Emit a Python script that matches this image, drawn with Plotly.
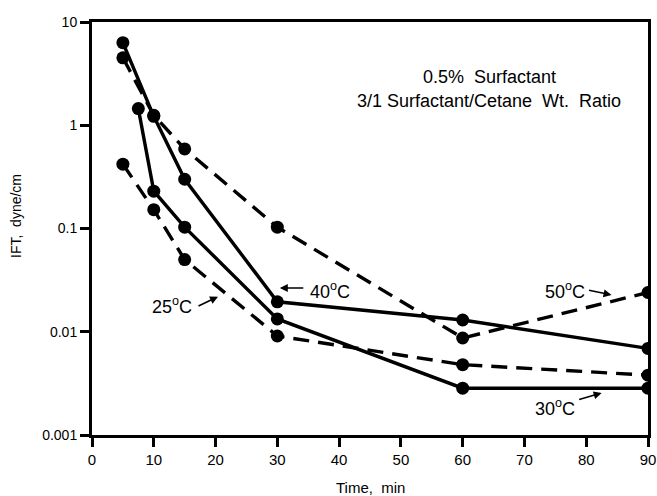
import plotly.graph_objects as go

# Interfacial tension vs. time, 0.5% surfactant, 3/1 surfactant/cetane ratio
time_25 = [5, 10, 15, 30, 60, 90]
ift_25 = [0.42, 0.152, 0.050, 0.0091, 0.0048, 0.0038]

time_30 = [7.5, 10, 15, 30, 60, 90]
ift_30 = [1.45, 0.23, 0.103, 0.0133, 0.00284, 0.00284]

time_40 = [5, 10, 15, 30, 60, 90]
ift_40 = [6.3, 1.22, 0.30, 0.0195, 0.013, 0.0069]

time_50 = [5, 10, 15, 30, 60, 90]
ift_50 = [4.5, 1.25, 0.59, 0.103, 0.0087, 0.024]

x_ticks = [0, 10, 20, 30, 40, 50, 60, 70, 80, 90]
y_ticks = [0.001, 0.01, 0.1, 1, 10]
y_tick_text = ["0.001", "0.01", "0.1", "1", "10"]

FONT = "Liberation Sans, Arial, Helvetica, sans-serif"
DASH = "16px,9px"

W, H = 657, 496
ML, MR, MT, MB = 92, 9, 22, 61
PW, PH = W - ML - MR, H - MT - MB

fig = go.Figure()


def add_series(x, y, dash):
    fig.add_trace(go.Scatter(
        x=x, y=y, mode="lines+markers",
        line=dict(color="black", width=3.4, dash=dash),
        marker=dict(color="black", size=13),
        showlegend=False,
    ))


add_series(time_25, ift_25, DASH)
add_series(time_30, ift_30, "solid")
add_series(time_40, ift_40, "solid")
add_series(time_50, ift_50, DASH)

# temperature labels with arrows (y positions are log10 values on the log axis)
labels = [
    dict(text="40<sup>o</sup>C", tx=38.6, ty=-1.605, hx=30.4, hy=-1.576, ax=25, ay=0),
    dict(text="50<sup>o</sup>C", tx=76.5, ty=-1.596, hx=84.1, hy=-1.644, ax=-24, ay=-5),
    dict(text="30<sup>o</sup>C", tx=74.9, ty=-2.738, hx=82.5, hy=-2.593, ax=-24, ay=7),
    dict(text="25<sup>o</sup>C", tx=12.9, ty=-1.75, hx=20.4, hy=-1.66, ax=-21, ay=10),
]
annotations = []
for lab in labels:
    annotations.append(dict(
        x=lab["tx"], y=lab["ty"], xref="x", yref="y", text=lab["text"],
        showarrow=False, font=dict(family=FONT, size=18, color="black"),
    ))
    annotations.append(dict(
        x=lab["hx"], y=lab["hy"], xref="x", yref="y", text="",
        showarrow=True, ax=lab["ax"], ay=lab["ay"], arrowhead=2,
        arrowsize=1, arrowwidth=1.6, arrowcolor="black",
    ))

annotations.append(dict(
    x=64.4, y=0.47, xref="x", yref="y", text="0.5%  Surfactant",
    showarrow=False, font=dict(family=FONT, size=18, color="black"),
))
annotations.append(dict(
    x=64.3, y=0.235, xref="x", yref="y", text="3/1 Surfactant/Cetane  Wt.  Ratio",
    showarrow=False, font=dict(family=FONT, size=18, color="black"),
))
# axis titles
annotations.append(dict(
    x=(16 - ML) / PW, y=1 - (216 - MT) / PH,
    xref="paper", yref="paper", text="IFT,  dyne/cm",
    xanchor="center", yanchor="middle",
    showarrow=False, textangle=-90, font=dict(family=FONT, size=14, color="black"),
))
annotations.append(dict(
    x=(370 - ML) / PW, y=1 - (487 - MT) / PH,
    xref="paper", yref="paper", text="Time,  min",
    xanchor="center", yanchor="middle",
    showarrow=False, font=dict(family=FONT, size=15, color="black"),
))

fig.update_layout(
    width=W, height=H,
    margin=dict(l=ML, r=MR, t=MT, b=MB, autoexpand=False),
    paper_bgcolor="white", plot_bgcolor="white",
    font=dict(family=FONT, size=14, color="black"),
    annotations=annotations,
    xaxis=dict(
        range=[0, 90], tickvals=x_ticks, showgrid=False, zeroline=False,
        showline=True, linewidth=3, linecolor="black", mirror=True,
        ticks="outside", ticklen=9, tickwidth=3, tickcolor="black",
        tickfont=dict(family=FONT, size=15), ticklabeloverflow="allow",
    ),
    yaxis=dict(
        type="log", range=[-3, 1], tickvals=y_ticks, ticktext=y_tick_text,
        showgrid=False, zeroline=False,
        showline=True, linewidth=3, linecolor="black", mirror=True,
        ticks="outside", ticklen=9, tickwidth=3, tickcolor="black",
        tickfont=dict(family=FONT, size=14),
    ),
)

fig.write_html("out.html")
